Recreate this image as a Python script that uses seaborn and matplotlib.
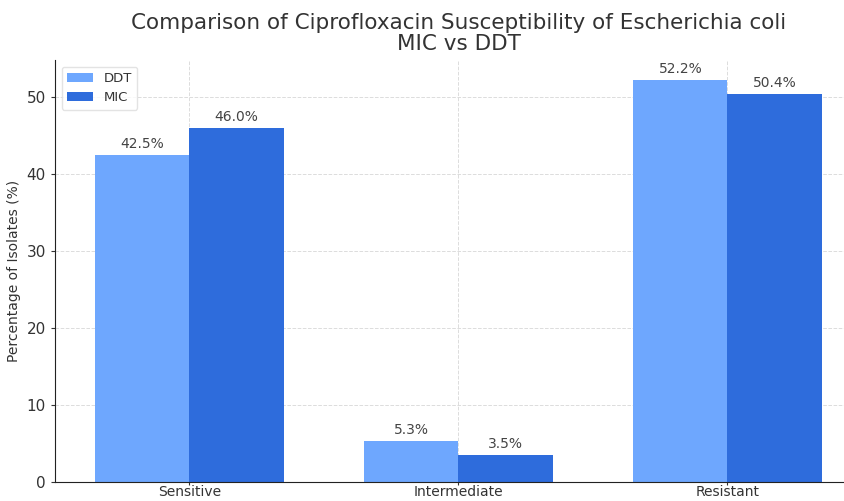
import matplotlib.pyplot as plt
import pandas as pd
import seaborn as sns

categories = ["Sensitive", "Intermediate", "Resistant"]
ddt_values = [42.5, 5.3, 52.2]
mic_values = [46.0, 3.5, 50.4]
methods = ["DDT", "MIC"]
colors = {"DDT": "#6ea7fe", "MIC": "#2e6cdc"}

df = pd.DataFrame({
    "Category": categories * 2,
    "Method": ["DDT"] * len(categories) + ["MIC"] * len(categories),
    "Value": ddt_values + mic_values,
})

sns.set_style("whitegrid", {"grid.linestyle": "--", "grid.color": "#dcdcdc",
                            "axes.edgecolor": "#222222"})
plt.rcParams["font.family"] = ["DejaVu Sans"]

fig = plt.figure(figsize=(8.45, 5.01), dpi=100)
ax = fig.add_axes([55 / 845, 19 / 501, 807 / 845, 422 / 501])

sns.barplot(data=df, x="Category", y="Value", hue="Method", hue_order=methods,
            order=categories, palette=colors, saturation=1, width=0.7,
            linewidth=0, ax=ax)

for container in ax.containers:
    ax.bar_label(container, fmt="%.1f%%", padding=3, fontsize=10, color="#444444")

ax.set_xlim(-0.5, 2.5)
ax.set_ylim(0, max(ddt_values + mic_values) * 1.05)
ax.set_xlabel("")
ax.set_ylabel("Percentage of Isolates (%)", fontsize=10, color="#333333")
ax.set_title("Comparison of Ciprofloxacin Susceptibility of Escherichia coli\nMIC vs DDT",
             fontsize=15.5, color="#333333", linespacing=1.1, pad=7)
ax.tick_params(axis="y", labelsize=11, colors="#333333", length=3, left=True)
ax.tick_params(axis="x", labelsize=10, colors="#333333", length=2, pad=0.5, bottom=True)
ax.spines["top"].set_visible(False)
ax.spines["right"].set_visible(False)
ax.grid(True, axis="both", linestyle="--", linewidth=0.7, color="#dcdcdc")
ax.set_axisbelow(True)

leg = ax.legend(loc="upper left", fontsize=9.5, frameon=True)
leg.get_frame().set_edgecolor("#dddddd")
for t in leg.get_texts():
    t.set_color("#333333")

fig.savefig("out.png", dpi=100)
